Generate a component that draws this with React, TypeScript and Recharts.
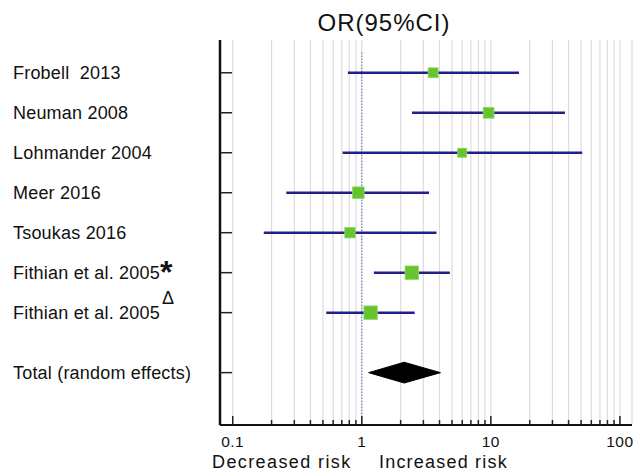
import { ComposedChart, Scatter, Area, XAxis, YAxis, CartesianGrid, ReferenceLine, ErrorBar } from "recharts";

const studies = ["Frobell  2013", "Neuman 2008", "Lohmander 2004", "Meer 2016", "Tsoukas 2016", "Fithian et al. 2005", "Fithian et al. 2005"];
const studyMarks = ["", "", "", "", "", "*", "Δ"];
const oddsRatios = [3.57, 9.6, 6.0, 0.94, 0.81, 2.44, 1.17];
const lowerCI = [0.78, 2.45, 0.71, 0.26, 0.174, 1.24, 0.53];
const upperCI = [16.5, 37.5, 51, 3.32, 3.79, 4.81, 2.57];
const weights = [11, 13, 9, 15, 12, 20, 20];

const totalLabel = "Total (random effects)";
const totalOR = 2.13;
const totalLower = 1.13;
const totalUpper = 4.07;

const majorTicks = [0.1, 1, 10, 100];
const title = "OR(95%CI)";
const leftCaption = "Decreased risk";
const rightCaption = "Increased risk";

// minor ticks 1..9 within each decade
const allTicks = [
  ...majorTicks.slice(0, -1).flatMap((d) => [1, 2, 3, 4, 5, 6, 7, 8, 9].map((m) => +(m * d).toPrecision(3))),
  majorTicks[majorTicks.length - 1],
];

const rowPos = studies.map((_, i) => i + 1);
const totalPos = studies.length + 1.5;

const studyData = studies.map((name, i) => ({
  name,
  x: oddsRatios[i],
  pos: rowPos[i],
  err: [oddsRatios[i] - lowerCI[i], upperCI[i] - oddsRatios[i]],
  weight: weights[i],
}));

const DIAMOND_HALF = 0.26;
const diamondData = [
  { x: totalLower, band: [totalPos, totalPos] },
  { x: totalOR, band: [totalPos - DIAMOND_HALF, totalPos + DIAMOND_HALF] },
  { x: totalUpper, band: [totalPos, totalPos] },
];

const FONT = "Arial, 'Liberation Sans', sans-serif";
const LINE = "#231f8a";

const SquareShape = (props: any) => {
  const { cx, cy, payload } = props;
  const s = 3 * Math.sqrt(payload.weight);
  return <rect x={cx - s / 2} y={cy - s / 2} width={s} height={s} fill="#66c42e" stroke="#8fd66a" strokeWidth={0.8} />;
};

const YTick = (props: any) => {
  const { x, y, payload } = props;
  const v = payload.value;
  const idx = rowPos.indexOf(v);
  const label = idx >= 0 ? studies[idx] : totalLabel;
  const mark = idx >= 0 ? studyMarks[idx] : "";
  return (
    <g>
      <line x1={x} x2={x + 12} y1={y} y2={y} stroke="#222" strokeWidth={1.5} />
      <text x={13} y={y + 6.5} fontSize={18} letterSpacing={0.2} fontFamily={FONT} fill="#111" style={{ whiteSpace: "pre" }}>
        {label}
        {mark === "*" && (
          <tspan fontSize={32} fontWeight="bold" dy={4}>
            {mark}
          </tspan>
        )}
        {mark === "Δ" && (
          <tspan fontSize={18} dx={2} dy={-15}>
            {mark}
          </tspan>
        )}
      </text>
    </g>
  );
};

const XTick = (props: any) => {
  const { x, y, payload } = props;
  const major = majorTicks.includes(payload.value);
  return (
    <g>
      <line x1={x} x2={x} y1={y} y2={y - (major ? 9 : 5)} stroke="#222" strokeWidth={1.5} />
      {major && (
        <text x={x} y={y + 22} textAnchor="middle" fontSize={15.5} letterSpacing={0.5} fontFamily={FONT} fill="#111">
          {payload.value}
        </text>
      )}
    </g>
  );
};

export default function App() {
  return (
    <div style={{ position: "relative", width: 637, height: 472, background: "#fff" }}>
      <style>{"body{margin:0}"}</style>
      <ComposedChart width={637} height={472} data={diamondData} margin={{ top: 40, right: 5, bottom: 17, left: 0 }}>
        <CartesianGrid horizontal={false} stroke="#dcdcdc" strokeWidth={1.2} />
        <XAxis
          dataKey="x"
          type="number"
          scale="log"
          domain={[0.0797, 124]}
          allowDataOverflow
          ticks={allTicks}
          interval={0}
          tick={<XTick />}
          tickLine={false}
          tickSize={0}
          tickMargin={0}
          height={30}
          axisLine={{ stroke: "#111", strokeWidth: 2 }}
        />
        <YAxis
          dataKey="pos"
          type="number"
          reversed
          domain={[0.18, 9.81]}
          allowDataOverflow
          ticks={[...rowPos, totalPos]}
          interval={0}
          tick={<YTick />}
          tickLine={false}
          tickSize={0}
          tickMargin={0}
          width={220}
          axisLine={{ stroke: "#111", strokeWidth: 2.5 }}
        />
        <ReferenceLine
          segment={[{ x: 1, y: 0.5 }, { x: 1, y: 9.81 }]}
          stroke="#3a3ab5"
          strokeWidth={1}
          strokeDasharray="1 2"
          ifOverflow="visible"
        />
        <Area
          dataKey="band"
          type="linear"
          stroke="#000"
          strokeWidth={1}
          fill="#000"
          fillOpacity={1}
          dot={false}
          activeDot={false}
          isAnimationActive={false}
        />
        <Scatter data={studyData} dataKey="pos" shape={<SquareShape />} isAnimationActive={false}>
          <ErrorBar dataKey="err" direction="x" width={0} stroke={LINE} strokeWidth={2.5} isAnimationActive={false} />
        </Scatter>
      </ComposedChart>
      <svg width={637} height={472} style={{ position: "absolute", left: 0, top: 0, pointerEvents: "none" }}>
        <text x={384} y={31} textAnchor="middle" fontSize={24} letterSpacing={1} fontFamily={FONT} fill="#111">
          {title}
        </text>
        <text x={212} y={468} fontSize={18} letterSpacing={1.4} fontFamily={FONT} fill="#111">
          {leftCaption}
        </text>
        <text x={379} y={468} fontSize={18} letterSpacing={1.2} fontFamily={FONT} fill="#111">
          {rightCaption}
        </text>
      </svg>
    </div>
  );
}
